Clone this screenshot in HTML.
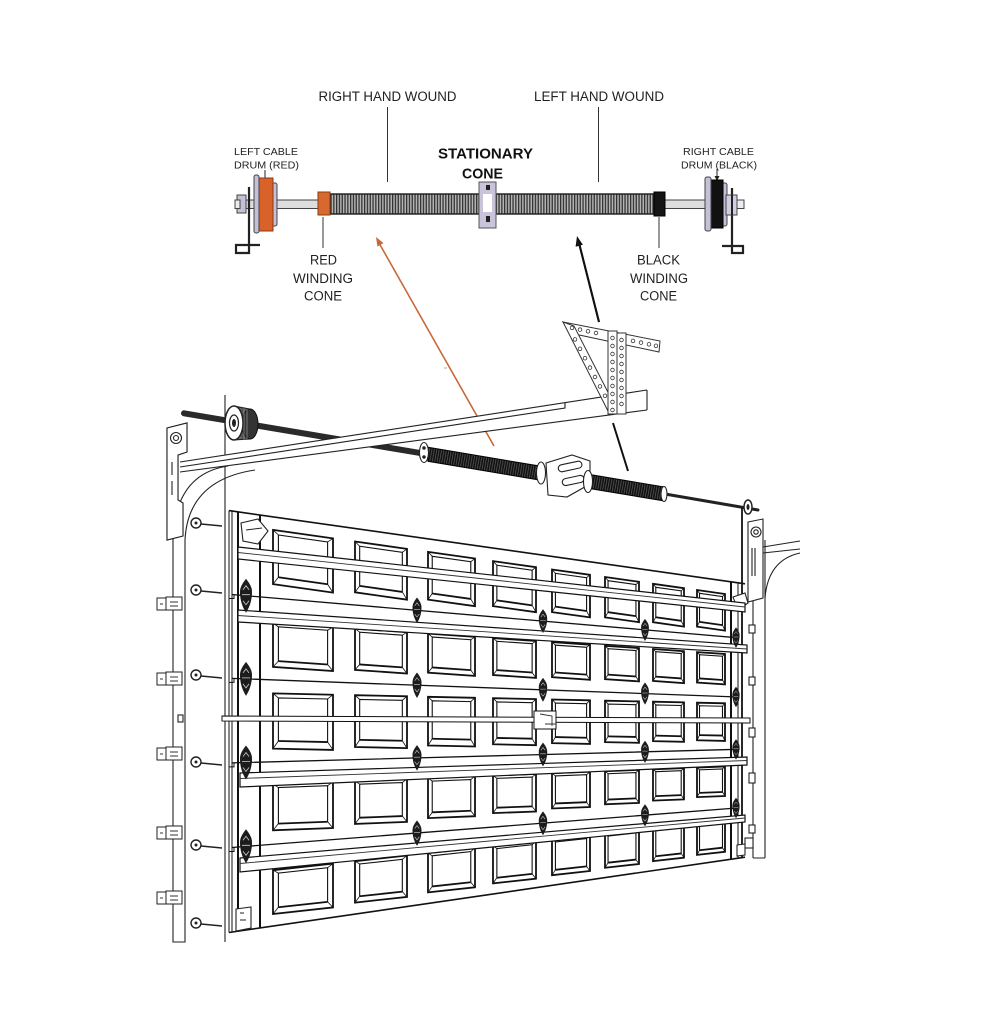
<!DOCTYPE html>
<html><head><meta charset="utf-8">
<style>
html,body{margin:0;padding:0;background:#fff;}
svg{display:block;}
text{font-family:"Liberation Sans",Arial,sans-serif;fill:#222;}
</style></head><body>
<svg width="1007" height="1030" viewBox="0 0 1007 1030" xmlns="http://www.w3.org/2000/svg">
<defs>
 <pattern id="coil" width="2.8" height="40" patternUnits="userSpaceOnUse">
  <rect width="2.8" height="40" fill="#b4b4b4"/>
  <rect x="0" width="1.3" height="40" fill="#333"/>
 </pattern>
 <pattern id="coilD" width="2.4" height="40" patternUnits="userSpaceOnUse" patternTransform="rotate(10)">
  <rect width="2.4" height="40" fill="#111"/>
  <rect x="1.5" width="0.6" height="40" fill="#6a6a6a"/>
 </pattern>
 <g id="pn" fill="none" stroke="#111">
  <rect x="0" y="0" width="100" height="100" stroke-width="1.8" vector-effect="non-scaling-stroke"/>
  <path d="M9,86 V8 H91 V86" stroke-width="1.1" vector-effect="non-scaling-stroke"/>
  <path d="M9,86 H91" stroke-width="1.8" vector-effect="non-scaling-stroke"/>
  <path d="M0,0 L9,8 M100,0 L91,8 M100,100 L91,86 M0,100 L9,86" stroke-width="0.8" vector-effect="non-scaling-stroke"/>
 </g>
 <g id="hg">
  <path d="M0,-17 C3,-13 6,-9 6,-4 C6,2 5,9 0,17 C-5,9 -6,2 -6,-4 C-6,-9 -3,-13 0,-17Z" fill="#1c1c1c"/>
  <path d="M-3,-6 L0,-10 L3,-6 M-3,5 L0,9 L3,5 M-4,-1 H4" stroke="#ccc" stroke-width="0.8" fill="none"/>
 </g>
</defs>
<rect width="1007" height="1030" fill="#fff"/>

<!-- ============ TOP DIAGRAM ============ -->
<text x="318.5" y="101" font-size="13.5" textLength="138" lengthAdjust="spacingAndGlyphs">RIGHT HAND WOUND</text>
<text x="534" y="101" font-size="13.5" textLength="130" lengthAdjust="spacingAndGlyphs">LEFT HAND WOUND</text>
<text x="234" y="155" font-size="10.5" textLength="64" lengthAdjust="spacingAndGlyphs">LEFT CABLE</text>
<text x="234" y="168.5" font-size="10.5" textLength="65" lengthAdjust="spacingAndGlyphs">DRUM (RED)</text>
<text x="683" y="155" font-size="10.5" textLength="71" lengthAdjust="spacingAndGlyphs">RIGHT CABLE</text>
<text x="681" y="168.5" font-size="10.5" textLength="76" lengthAdjust="spacingAndGlyphs">DRUM (BLACK)</text>
<text x="438" y="158.5" font-size="15" font-weight="bold" textLength="95" lengthAdjust="spacingAndGlyphs" style="fill:#111">STATIONARY</text>
<text x="462" y="178.5" font-size="15" font-weight="bold" textLength="41" lengthAdjust="spacingAndGlyphs" style="fill:#111">CONE</text>
<text x="310" y="264.5" font-size="13.5" textLength="27" lengthAdjust="spacingAndGlyphs">RED</text>
<text x="293" y="283" font-size="13.5" textLength="60" lengthAdjust="spacingAndGlyphs">WINDING</text>
<text x="304" y="300.5" font-size="13.5" textLength="38" lengthAdjust="spacingAndGlyphs">CONE</text>
<text x="637" y="264.5" font-size="13.5" textLength="43" lengthAdjust="spacingAndGlyphs">BLACK</text>
<text x="630" y="283" font-size="13.5" textLength="58" lengthAdjust="spacingAndGlyphs">WINDING</text>
<text x="640" y="300.5" font-size="13.5" textLength="37" lengthAdjust="spacingAndGlyphs">CONE</text>

<g stroke="#333" stroke-width="1" fill="none">
 <path d="M387.5,107 V182 M598.5,107 V182 M323,217 V248 M659,217 V248"/>
 <path d="M265,170 V180 M717,169 V176" stroke="#222"/>
</g>
<path d="M262.5,179 L267.5,179 L265,184Z M714.5,176 L719.5,176 L717,181Z" fill="#222"/>

<g stroke="#444" stroke-width="1">
 <rect x="240" y="200" width="502" height="8.5" fill="#dedede"/>
 <path d="M249,187 V253 H236 V245 H260" fill="none" stroke="#222" stroke-width="2.2"/>
 <path d="M732,188 V253 H743 V246 H722" fill="none" stroke="#222" stroke-width="2.2"/>
 <rect x="237" y="195" width="9" height="18" fill="#c5c0d8"/>
 <rect x="235" y="200" width="5" height="8.5" fill="#ececec"/>
 <rect x="271" y="183" width="6" height="43" rx="2" fill="#c5c0d8"/>
 <rect x="258" y="178" width="15" height="53" fill="#d9622a" stroke="#8a3a10"/>
 <rect x="254" y="175" width="5" height="58" rx="2" fill="#c5c0d8"/>
 <rect x="330" y="194" width="149" height="20" fill="url(#coil)" stroke="#1a1a1a" stroke-width="1.4"/>
 <rect x="496" y="194" width="158" height="20" fill="url(#coil)" stroke="#1a1a1a" stroke-width="1.4"/>
 <rect x="318" y="192" width="12" height="23" fill="#d8692e" stroke="#8a3a10"/>
 <rect x="479" y="182" width="17" height="46" fill="#c9c4da" stroke="#555"/>
 <rect x="483" y="194" width="9" height="18" fill="#fff" stroke="none"/>
 <rect x="486" y="185" width="4" height="5" fill="#222" stroke="none"/>
 <rect x="486" y="216" width="4" height="6" fill="#222" stroke="none"/>
 <rect x="654" y="192" width="11" height="24" fill="#151515" stroke="#000"/>
 <rect x="722" y="183" width="5" height="43" rx="2" fill="#c5c0d8"/>
 <rect x="710" y="180" width="13" height="48" fill="#111" stroke="#000"/>
 <rect x="705" y="177" width="6" height="54" rx="2" fill="#c5c0d8"/>
 <rect x="726" y="195" width="11" height="20" fill="#d2cee2"/>
 <path d="M732,195 V215" stroke="#222" stroke-width="2"/>
 <rect x="737" y="200" width="7" height="8.5" fill="#ececec"/>
</g>

<!-- ============ ARROWS ============ -->
<path d="M494,446 L379,243" stroke="#c8693a" stroke-width="1.6" fill="none"/>
<polygon points="376,237 383.5,243.1 377.4,246.5" fill="#c8693a"/>
<path d="M628,471 L613,423 M599,322 L579.5,245" stroke="#111" stroke-width="2" fill="none"/>
<polygon points="577,236 582.9,244.8 575.6,246.7" fill="#111"/>
<path d="M444,368 H447" stroke="#aaa" stroke-width="1"/>

<!-- ============ LEFT FRAME ============ -->
<g stroke="#222" stroke-width="1.1" fill="none">
 <path d="M173,540 V942 H185 V540"/>
 <path d="M225,395 V942"/>
 <path d="M173,540 Q175,474 228,466"/>
 <path d="M185,540 Q188,480 255,470"/>
 <polygon points="167,428 187,423 187,452 178,455 178,500 183,503 183,536 167,540" fill="#fff"/>
 <circle cx="176" cy="438" r="5.5"/>
 <circle cx="176" cy="438" r="2.5"/>
 <path d="M172,462 V475 M172,481 V495"/>
 <rect x="178" y="715" width="5" height="7"/>
</g>
<g stroke="#222" stroke-width="1" fill="#fff">
 <rect x="157" y="598" width="9" height="12"/><rect x="166" y="597" width="16" height="13"/>
 <rect x="157" y="673" width="9" height="12"/><rect x="166" y="672" width="16" height="13"/>
 <rect x="157" y="748" width="9" height="12"/><rect x="166" y="747" width="16" height="13"/>
 <rect x="157" y="827" width="9" height="12"/><rect x="166" y="826" width="16" height="13"/>
 <rect x="157" y="892" width="9" height="12"/><rect x="166" y="891" width="16" height="13"/>
</g>
<g stroke="#333" stroke-width="0.9" fill="none">
 <path d="M160,604 H163 M170,602 H178 M170,606 H178"/>
 <path d="M160,679 H163 M170,677 H178 M170,681 H178"/>
 <path d="M160,754 H163 M170,752 H178 M170,756 H178"/>
 <path d="M160,833 H163 M170,831 H178 M170,835 H178"/>
 <path d="M160,898 H163 M170,896 H178 M170,900 H178"/>
</g>
<g stroke="#222" stroke-width="1.4" fill="#fff">
 <path d="M201,524 L222,526 M201,591 L222,593 M201,676 L222,678 M201,763 L222,765 M201,846 L222,848 M201,924 L222,926" fill="none"/>
 <circle cx="196" cy="523" r="5"/><circle cx="196" cy="590" r="5"/><circle cx="196" cy="675" r="5"/>
 <circle cx="196" cy="762" r="5"/><circle cx="196" cy="845" r="5"/><circle cx="196" cy="923" r="5"/>
</g>
<g fill="#222">
 <circle cx="196" cy="523" r="1.5"/><circle cx="196" cy="590" r="1.5"/><circle cx="196" cy="675" r="1.5"/>
 <circle cx="196" cy="762" r="1.5"/><circle cx="196" cy="845" r="1.5"/><circle cx="196" cy="923" r="1.5"/>
</g>

<!-- ============ RIGHT FRAME ============ -->
<g stroke="#222" stroke-width="1.1" fill="none">
 <path d="M753,600 V858 M765,540 V858 M753,858 H765"/>
 <polygon points="748,522 763,519 763,598 748,602" fill="#fff"/>
 <circle cx="756" cy="532" r="5"/><circle cx="756" cy="532" r="2.2"/>
 <path d="M752,548 V576 M755,548 V576"/>
 <path d="M763,547 L800,541 M763,553 L800,549 M765,598 Q768,560 800,553"/>
 <rect x="749" y="625" width="6" height="8" fill="#fff"/>
 <rect x="749" y="677" width="6" height="8" fill="#fff"/>
 <rect x="749" y="728" width="6" height="9" fill="#fff"/>
 <rect x="749" y="773" width="6" height="10" fill="#fff"/>
 <rect x="749" y="825" width="6" height="8" fill="#fff"/>
 <rect x="745" y="838" width="8" height="10" fill="#fff"/>
</g>

<!-- ============ DOOR PANELS ============ -->
<use href="#pn" transform="matrix(.6,.085,0,.542,273,529.9)"/>
<use href="#pn" transform="matrix(.6,.041,0,.439,273,623)"/>
<use href="#pn" transform="matrix(.6,.013,0,.552,273,693.4)"/>
<use href="#pn" transform="matrix(.6,-.023,0,.462,273,784.1)"/>
<use href="#pn" transform="matrix(.6,-.066,0,.438,273,870.2)"/>
<use href="#pn" transform="matrix(.52,.074,0,.508,355,541.5)"/>
<use href="#pn" transform="matrix(.52,.036,0,.413,355,628.6)"/>
<use href="#pn" transform="matrix(.52,.011,0,.518,355,695.2)"/>
<use href="#pn" transform="matrix(.52,-.02,0,.43,355,780.9)"/>
<use href="#pn" transform="matrix(.52,-.057,0,.414,355,861.2)"/>
<use href="#pn" transform="matrix(.47,.066,0,.477,428,551.9)"/>
<use href="#pn" transform="matrix(.47,.033,0,.39,428,633.6)"/>
<use href="#pn" transform="matrix(.47,.01,0,.487,428,696.8)"/>
<use href="#pn" transform="matrix(.47,-.019,0,.40,428,778.1)"/>
<use href="#pn" transform="matrix(.47,-.051,0,.393,428,853.1)"/>
<use href="#pn" transform="matrix(.43,.061,0,.45,493,561.1)"/>
<use href="#pn" transform="matrix(.43,.029,0,.369,493,638.1)"/>
<use href="#pn" transform="matrix(.43,.009,0,.461,493,698.2)"/>
<use href="#pn" transform="matrix(.43,-.016,0,.376,493,775.5)"/>
<use href="#pn" transform="matrix(.43,-.047,0,.374,493,846)"/>
<use href="#pn" transform="matrix(.38,.053,0,.426,552,569.5)"/>
<use href="#pn" transform="matrix(.38,.026,0,.351,552,642.1)"/>
<use href="#pn" transform="matrix(.38,.008,0,.436,552,699.5)"/>
<use href="#pn" transform="matrix(.38,-.015,0,.353,552,773.2)"/>
<use href="#pn" transform="matrix(.38,-.042,0,.357,552,839.5)"/>
<use href="#pn" transform="matrix(.34,.048,0,.404,605,577)"/>
<use href="#pn" transform="matrix(.34,.023,0,.333,605,645.8)"/>
<use href="#pn" transform="matrix(.34,.007,0,.414,605,700.7)"/>
<use href="#pn" transform="matrix(.34,-.014,0,.331,605,771.2)"/>
<use href="#pn" transform="matrix(.34,-.038,0,.341,605,833.7)"/>
<use href="#pn" transform="matrix(.31,.044,0,.384,653,583.8)"/>
<use href="#pn" transform="matrix(.31,.022,0,.319,653,649)"/>
<use href="#pn" transform="matrix(.31,.007,0,.394,653,701.7)"/>
<use href="#pn" transform="matrix(.31,-.012,0,.313,653,769.3)"/>
<use href="#pn" transform="matrix(.31,-.034,0,.327,653,828.4)"/>
<use href="#pn" transform="matrix(.28,.04,0,.366,697,590)"/>
<use href="#pn" transform="matrix(.28,.019,0,.304,697,652.1)"/>
<use href="#pn" transform="matrix(.28,.006,0,.376,697,702.7)"/>
<use href="#pn" transform="matrix(.28,-.011,0,.295,697,767.6)"/>
<use href="#pn" transform="matrix(.28,-.031,0,.313,697,823.6)"/>

<!-- door outline, stiles, sections -->
<g stroke="#111" fill="none">
 <path d="M229,510.6 L745,583.8" stroke-width="1.6"/>
 <path d="M229,932.5 L745,857.2" stroke-width="1.6"/>
 <path d="M229,510.6 V932.5 M232,511 V932" stroke-width="1"/>
 <path d="M238,512 V931 M260,515 V928" stroke-width="2"/>
 <path d="M731,581.9 V859.2" stroke-width="2"/>
 <path d="M738,582.9 V858.2" stroke-width="1"/>
 <path d="M742,508 V857.6" stroke-width="1.8"/>
 <path d="M232,594.5 L738,637.8 M232,678.4 L738,697 M232,762.9 L738,749.3 M232,847.5 L738,807.9" stroke-width="1.3"/>
 <path d="M229,598.5 H234 V594.7 M229,682.4 H234 V678.6 M229,766.9 H234 V763 M229,851.5 H234 V847.6" stroke-width="1"/>
</g>
<g stroke="#222" stroke-width="1.1" fill="#fff">
 <polygon points="241,523 258,519 268,531 258,544 243,541"/>
 <path d="M246,530 L262,528" fill="none"/>
 <polygon points="733,597 745,593 748,603 738,610"/>
 <polygon points="236,909 251,907 251,928 236,931"/>
 <path d="M240,913 H244 M240,920 H246" fill="none"/>
 <polygon points="737,845 745,844 745,855 737,856"/>
</g>

<!-- struts -->
<g stroke="#111" stroke-width="1.2" fill="#fff">
 <polygon points="238,547 745,603 745,612 238,559"/>
 <polygon points="238,610 747,645 747,653 238,622"/>
 <polygon points="240,773 747,757 747,765 240,787"/>
 <polygon points="240,858 745,815 745,822 240,872"/>
 <polygon points="222,716 750,718 750,723 222,721" stroke-width="1"/>
 <rect x="534" y="711" width="22" height="18" stroke-width="1"/>
</g>
<g stroke="#333" stroke-width="0.9" fill="none">
 <path d="M238,552.5 L745,607 M238,615.5 L747,649 M240,778.5 L747,760.5 M240,863.5 L745,818"/>
 <path d="M540,714 L552,716 L552,726 M545,724 H556"/>
</g>

<!-- hinges -->
<use href="#hg" transform="translate(246,595.7)"/>
<use href="#hg" transform="translate(246,678.9)"/>
<use href="#hg" transform="translate(246,762.5)"/>
<use href="#hg" transform="translate(246,846.3)"/>
<use href="#hg" transform="translate(417,610.3) scale(.75)"/>
<use href="#hg" transform="translate(417,685.2) scale(.75)"/>
<use href="#hg" transform="translate(417,757.9) scale(.75)"/>
<use href="#hg" transform="translate(417,833.1) scale(.75)"/>
<use href="#hg" transform="translate(543,621.1) scale(.7)"/>
<use href="#hg" transform="translate(543,689.8) scale(.7)"/>
<use href="#hg" transform="translate(543,754.5) scale(.7)"/>
<use href="#hg" transform="translate(543,823.3) scale(.7)"/>
<use href="#hg" transform="translate(645,629.9) scale(.65)"/>
<use href="#hg" transform="translate(645,693.6) scale(.65)"/>
<use href="#hg" transform="translate(645,751.8) scale(.65)"/>
<use href="#hg" transform="translate(645,815.3) scale(.65)"/>
<use href="#hg" transform="translate(736,637.6) scale(.6)"/>
<use href="#hg" transform="translate(736,697) scale(.6)"/>
<use href="#hg" transform="translate(736,749.4) scale(.6)"/>
<use href="#hg" transform="translate(736,808) scale(.6)"/>

<!-- ============ TORSION ASSEMBLY ============ -->
<path d="M184,413.3 L425,453.8" stroke="#2a2a2a" stroke-width="6" stroke-linecap="round"/>
<!-- pulley -->
<path d="M234,406 L250,409 L250,439 L234,440Z" fill="#555" stroke="#222"/>
<ellipse cx="250" cy="424" rx="8" ry="15" fill="#333" stroke="#111"/>
<path d="M240,408 V439 M244,408.5 V439.5 M247,409 V439" stroke="#999" stroke-width="0.7"/>
<ellipse cx="234" cy="423" rx="9" ry="17" fill="#fff" stroke="#222" stroke-width="1.5"/>
<ellipse cx="234" cy="423" rx="4.5" ry="8" fill="#fff" stroke="#222" stroke-width="1.2"/>
<ellipse cx="234" cy="423" rx="2" ry="4" fill="#222"/>

<!-- horizontal track band -->
<polygon points="180,462 647,390 647,410 180,472" fill="#fff"/>
<g stroke="#222" stroke-width="1.1" fill="none">
 <path d="M180,462 L647,390"/>
 <path d="M180,467 L565,408 L565,402.7"/>
 <path d="M180,472 L647,410"/>
 <path d="M647,390 V410"/>
</g>
<!-- redraw flag plate over band end -->
<g stroke="#222" stroke-width="1.1" fill="#fff">
 <polygon points="167,428 187,423 187,452 178,455 178,500 183,503 183,536 167,540"/>
 <circle cx="176" cy="438" r="5.5" fill="none"/>
 <circle cx="176" cy="438" r="2.5" fill="none"/>
 <path d="M172,462 V475 M172,481 V495" fill="none"/>
</g>

<!-- springs -->
<polygon points="428,447.3 540,466.1 540,480.1 428,461.3" fill="url(#coilD)" stroke="#000" stroke-width="1"/>
<polygon points="592,474.9 663,486.8 663,500.8 592,488.9" fill="url(#coilD)" stroke="#000" stroke-width="1"/>
<path d="M665,494 L758,510" stroke="#222" stroke-width="3" stroke-linecap="round"/>
<g stroke="#222" stroke-width="1.1" fill="#fff">
 <ellipse cx="424" cy="452.5" rx="4.5" ry="10"/>
 <circle cx="424" cy="448" r="1.2" fill="#222"/>
 <circle cx="424" cy="457" r="1.2" fill="#222"/>
 <polygon points="546,463 572,455 590,461 590,484 567,497 548,495"/>
 <rect x="558" y="463" width="24" height="7" rx="3.5" transform="rotate(-12 570 466)"/>
 <rect x="562" y="477" width="22" height="7" rx="3.5" transform="rotate(-12 573 480)"/>
 <ellipse cx="541" cy="473" rx="4.5" ry="11"/>
 <ellipse cx="588" cy="481.5" rx="4.5" ry="11"/>
 <ellipse cx="664" cy="494" rx="3" ry="7.5"/>
 <ellipse cx="748" cy="507" rx="4" ry="7" stroke-width="1.5"/>
</g>
<ellipse cx="748" cy="507" rx="1.5" ry="3" fill="#222"/>

<!-- perforated bearing bracket -->
<g stroke="#333" stroke-width="1" fill="#fff">
 <polygon points="563,322 660,341 659,352 570,333"/>
 <polygon points="563,322 574,326 614,404 609,413"/>
 <rect x="608" y="331" width="9" height="83"/>
 <rect x="617" y="333" width="9" height="81"/>
</g>
<g stroke="#333" stroke-width="0.8" fill="none">
 <circle cx="572" cy="327.9" r="1.8"/><circle cx="580" cy="329.6" r="1.8"/><circle cx="588" cy="331.3" r="1.8"/>
 <circle cx="596" cy="333" r="1.8"/><circle cx="633" cy="340.9" r="1.8"/><circle cx="641" cy="342.6" r="1.8"/>
 <circle cx="649" cy="344.3" r="1.8"/><circle cx="656" cy="345.8" r="1.8"/>
 <circle cx="575" cy="339.4" r="1.8"/><circle cx="580" cy="348.8" r="1.8"/><circle cx="585" cy="358.2" r="1.8"/>
 <circle cx="590" cy="367.6" r="1.8"/><circle cx="595" cy="377" r="1.8"/><circle cx="600" cy="386.4" r="1.8"/>
 <circle cx="605" cy="395.8" r="1.8"/>
 <circle cx="612.5" cy="338" r="1.8"/><circle cx="612.5" cy="346" r="1.8"/><circle cx="612.5" cy="354" r="1.8"/>
 <circle cx="612.5" cy="362" r="1.8"/><circle cx="612.5" cy="370" r="1.8"/><circle cx="612.5" cy="378" r="1.8"/>
 <circle cx="612.5" cy="386" r="1.8"/><circle cx="612.5" cy="394" r="1.8"/><circle cx="612.5" cy="402" r="1.8"/>
 <circle cx="612.5" cy="410" r="1.8"/>
 <circle cx="621.5" cy="340" r="1.8"/><circle cx="621.5" cy="348" r="1.8"/><circle cx="621.5" cy="356" r="1.8"/>
 <circle cx="621.5" cy="364" r="1.8"/><circle cx="621.5" cy="372" r="1.8"/><circle cx="621.5" cy="380" r="1.8"/>
 <circle cx="621.5" cy="388" r="1.8"/><circle cx="621.5" cy="396" r="1.8"/><circle cx="621.5" cy="404" r="1.8"/>
</g>
<!-- black arrow over bracket area -->
<path d="M599,322 L579.5,245" stroke="#111" stroke-width="2" fill="none"/>
</svg>
</body></html>
